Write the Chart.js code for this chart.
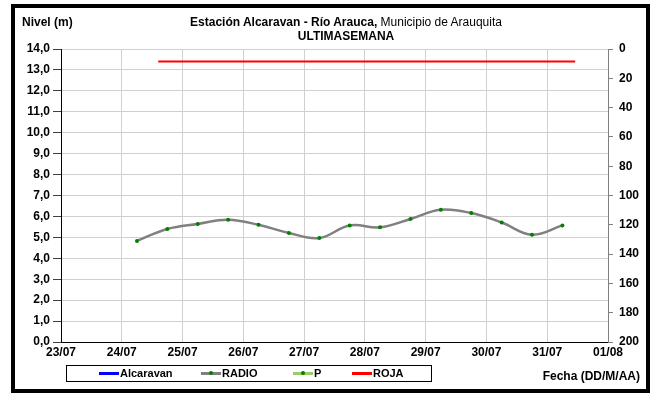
<!DOCTYPE html>
<html>
<head>
<meta charset="utf-8">
<script src="https://cdn.jsdelivr.net/npm/chart.js@4.4.1/dist/chart.umd.min.js"></script>
<style>
  body { margin: 0; background: #fff; font-family: "Liberation Sans", Arial, sans-serif; }
  #wrap { position: relative; width: 651px; height: 394px; overflow: hidden; }
  #chart { position: absolute; left: 0; top: 0; }
  #frame { position: absolute; left: 11px; top: 4px; width: 631px; height: 381px; border: 4px solid #000; pointer-events: none; }
  .txt { position: absolute; color: #000; font-size: 12px; white-space: nowrap; line-height: 14px; }
  #legend { position: absolute; left: 66px; top: 365px; width: 364px; height: 15px; border: 1px solid #000; background: #fff; }
  .item { position: absolute; top: 0; height: 15px; font-size: 11px; font-weight: bold; line-height: 15px; }
  .swatch { position: absolute; top: 6px; width: 20px; height: 3px; }
  .dot { position: absolute; top: -1px; left: 8px; width: 4px; height: 4px; border-radius: 2px; background: #008000; }
</style>
</head>
<body>
<div id="wrap">
  <canvas id="chart" width="651" height="394"></canvas>
  <div class="txt" style="left:22px; top:15px; font-weight:bold;">Nivel (m)</div>
  <div class="txt" style="left:346px; top:15px; transform:translateX(-50%);"><b>Estación Alcaravan - Río Arauca,</b> Municipio de Arauquita</div>
  <div class="txt" style="left:346px; top:29px; transform:translateX(-50%); font-weight:bold;">ULTIMASEMANA</div>
  <div class="txt" style="right:11px; top:369px; font-weight:bold;">Fecha (DD/M/AA)</div>
  <div id="legend"></div>
  <div id="frame"></div>
</div>
<script>
// datos (x = dia de julio, con fraccion de dia)
const xTickLabels = ["23/07", "24/07", "25/07", "26/07", "27/07", "28/07", "29/07", "30/07", "31/07", "01/08"];
const radioTimes = [24.25, 24.75, 25.25, 25.75, 26.25, 26.75, 27.25, 27.75, 28.25, 28.75, 29.25, 29.75, 30.25, 30.75, 31.25];
const radioLevels = [4.83, 5.40, 5.64, 5.84, 5.60, 5.21, 4.97, 5.57, 5.48, 5.88, 6.32, 6.16, 5.71, 5.13, 5.57];
const rojaTimes = [24.6, 31.46];
const rojaLevels = [13.4, 13.4];
const alcaravanLevels = [];
const pLevels = [];

function toPoints(xs, ys) {
  return xs.map((x, i) => ({ x: x, y: ys[i] }));
}

const datasets = [
  { label: "Alcaravan", data: alcaravanLevels, borderColor: "#0000ff", backgroundColor: "#0000ff", pointRadius: 0, yAxisID: "y" },
  { label: "RADIO", data: toPoints(radioTimes, radioLevels), borderColor: "#808080", borderWidth: 2.5, tension: 0.4,
    pointRadius: 2, pointBorderWidth: 0, pointBackgroundColor: "#008000", yAxisID: "y", dot: true },
  { label: "P", data: pLevels, borderColor: "#99cc66", backgroundColor: "#99cc66", pointRadius: 0, yAxisID: "y", dot: true },
  { label: "ROJA", data: toPoints(rojaTimes, rojaLevels), borderColor: "#ff0000", borderWidth: 2, pointRadius: 0, yAxisID: "y" },
];

const bold12 = { family: "'Liberation Sans', Arial, sans-serif", size: 12, weight: "bold" };

const chart = new Chart(document.getElementById("chart").getContext("2d"), {
  type: "line",
  data: { datasets: datasets },
  options: {
    responsive: false,
    animation: false,
    layout: { padding: { top: 49, left: 0, right: 0, bottom: 0 } },
    plugins: { legend: { display: false }, tooltip: { enabled: false } },
    scales: {
      x: {
        type: "linear", min: 23, max: 32,
        ticks: { stepSize: 1, font: bold12, color: "#000", padding: 3, maxRotation: 0,
          callback: (v) => xTickLabels[v - 23] },
        grid: { color: "#d0d0d0", drawTicks: false },
        border: { color: "#000" },
        afterFit: (s) => { s.height = 52; },
      },
      y: {
        position: "left", min: 0, max: 14,
        ticks: { stepSize: 1, font: bold12, color: "#000", padding: 3,
          callback: (v) => v.toFixed(1).replace(".", ",") },
        grid: { color: "#d0d0d0", tickLength: 8, tickColor: "#404040" },
        border: { color: "#000" },
        afterFit: (s) => { s.width = 61; },
      },
      y2: {
        position: "right", min: 0, max: 200, reverse: true,
        ticks: { stepSize: 20, font: bold12, color: "#000", padding: 6 },
        grid: { drawOnChartArea: false, tickLength: 5, tickColor: "#808080" },
        border: { color: "#808080" },
        afterFit: (s) => { s.width = 43; },
      },
    },
  },
});

// leyenda en html, a partir de los datasets
const legendPos = [32, 134, 226, 285];
const legend = document.getElementById("legend");
chart.data.datasets.forEach((ds, i) => {
  const item = document.createElement("div");
  item.className = "item";
  item.style.left = legendPos[i] + "px";
  item.innerHTML = '<div class="swatch" style="background:' + ds.borderColor + '">' +
    (ds.dot ? '<div class="dot"></div>' : '') + '</div>' +
    '<span style="margin-left:21px">' + ds.label + '</span>';
  legend.appendChild(item);
});
</script>
</body>
</html>
